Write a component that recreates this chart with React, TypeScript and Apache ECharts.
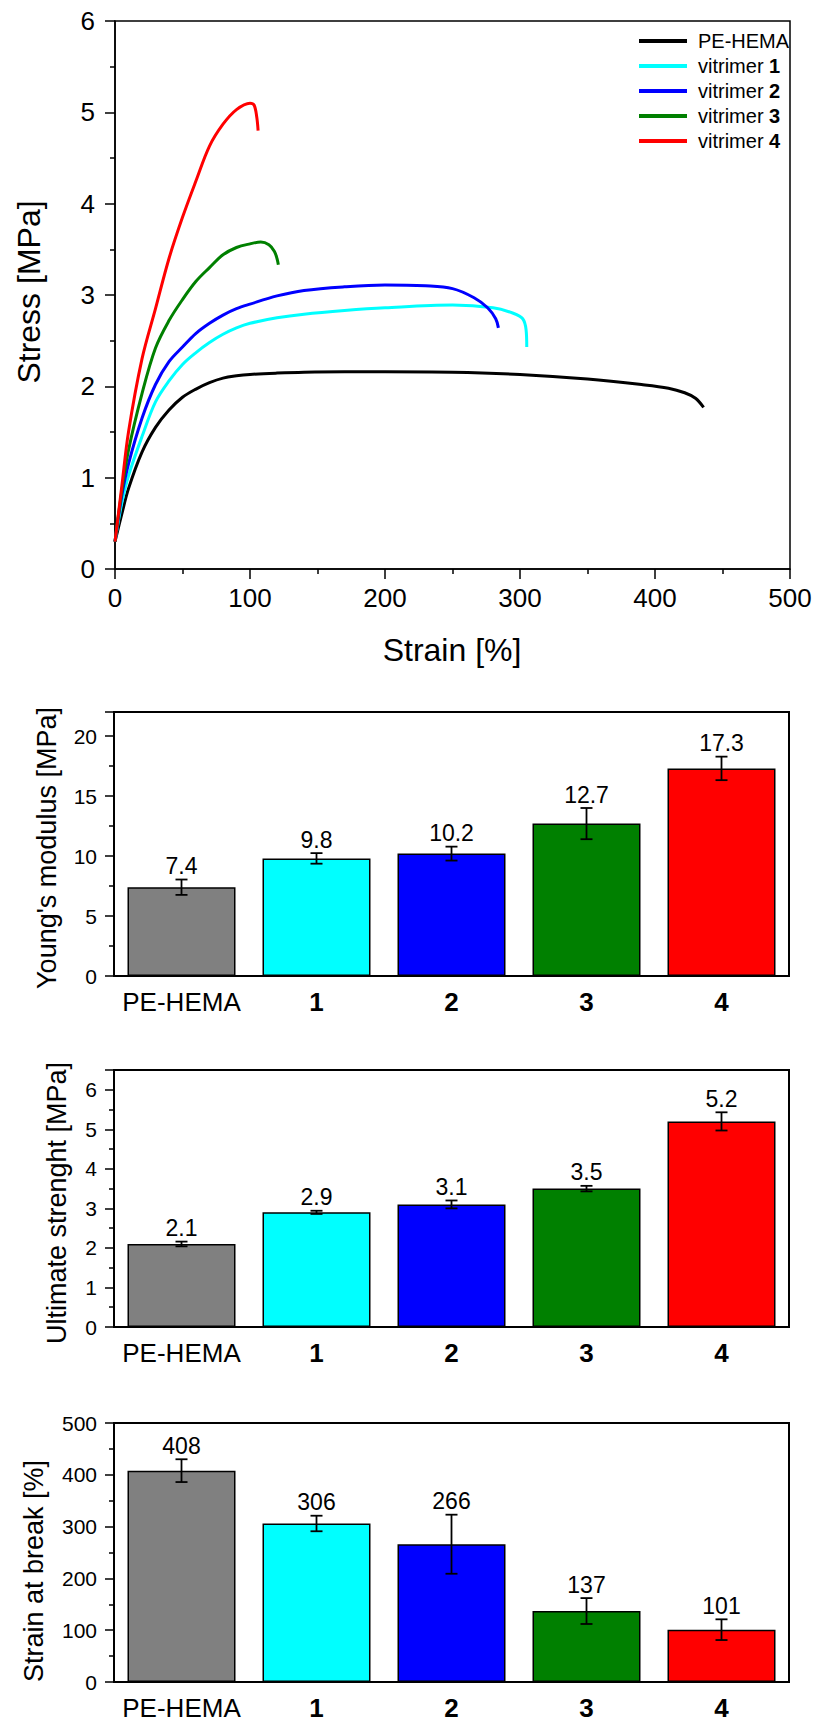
import React, { useEffect, useRef } from 'react';
import * as echarts from 'echarts';

const FONT = "'Liberation Sans', Arial, Helvetica, sans-serif";

// ---------- Stress-strain curves ----------
const seriesNames = ['PE-HEMA', 'vitrimer 1', 'vitrimer 2', 'vitrimer 3', 'vitrimer 4'];
const curveColors = ['#000000', '#00FFFF', '#0000FF', '#008000', '#FF0000'];

const peHemaCurve: [number, number][] = [
  [0, 0.3], [5, 0.6], [10, 0.88], [20, 1.28], [30, 1.55], [40, 1.74], [50, 1.88], [60, 1.97],
  [70, 2.04], [80, 2.09], [90, 2.115], [100, 2.13], [120, 2.145], [140, 2.155], [170, 2.16],
  [200, 2.16], [250, 2.155], [300, 2.13], [350, 2.08], [390, 2.02], [410, 1.98], [422, 1.93],
  [430, 1.87], [436, 1.77],
];
const vitrimer1Curve: [number, number][] = [
  [0, 0.3], [5, 0.72], [10, 1.02], [20, 1.45], [30, 1.83], [40, 2.06], [50, 2.24], [60, 2.37],
  [70, 2.48], [80, 2.57], [90, 2.64], [100, 2.69], [120, 2.75], [140, 2.79], [170, 2.83],
  [200, 2.86], [250, 2.89], [280, 2.86], [295, 2.8], [302, 2.74], [304.5, 2.62], [305, 2.43],
];
const vitrimer2Curve: [number, number][] = [
  [0, 0.3], [5, 0.8], [10, 1.15], [20, 1.65], [30, 2.02], [40, 2.27], [50, 2.43], [60, 2.58],
  [70, 2.69], [80, 2.78], [90, 2.85], [100, 2.9], [120, 2.99], [140, 3.05], [170, 3.09],
  [200, 3.11], [230, 3.1], [250, 3.07], [266, 2.97], [276, 2.86], [282, 2.74], [284, 2.64],
];
const vitrimer3Curve: [number, number][] = [
  [0, 0.3], [5, 0.85], [10, 1.3], [20, 1.92], [30, 2.42], [40, 2.72], [50, 2.95], [60, 3.15],
  [70, 3.3], [80, 3.44], [90, 3.52], [100, 3.56], [108, 3.58], [114, 3.55], [118, 3.48],
  [120, 3.4], [121, 3.33],
];
const vitrimer4Curve: [number, number][] = [
  [0, 0.3], [5, 0.9], [10, 1.5], [20, 2.3], [30, 2.85], [40, 3.4], [50, 3.85], [60, 4.25],
  [70, 4.63], [80, 4.87], [90, 5.03], [100, 5.1], [103, 5.08], [105, 4.95], [106, 4.8],
];
const curves = [peHemaCurve, vitrimer1Curve, vitrimer2Curve, vitrimer3Curve, vitrimer4Curve];

// ---------- Bar charts ----------
const categories = ['PE-HEMA', '1', '2', '3', '4'];
const barColors = ['#808080', '#00FFFF', '#0000FF', '#008000', '#FF0000'];

const youngsModulus = [7.4, 9.8, 10.2, 12.7, 17.3];
const youngsModulusErr = [0.64, 0.44, 0.58, 1.3, 0.98];

const ultimateStrength = [2.1, 2.9, 3.1, 3.5, 5.2];
const ultimateStrengthErr = [0.06, 0.04, 0.1, 0.07, 0.23];

const strainAtBreak = [408, 306, 266, 137, 101];
const strainAtBreakErr = [22, 15, 57, 25, 20];

const makeBarY = (gridIndex: number, max: number, interval: number, showMax: boolean) => ({
  type: 'value',
  gridIndex,
  min: 0,
  max,
  interval,
  axisLine: { show: true, lineStyle: { color: '#000', width: 2 } },
  axisTick: { show: true, inside: false, length: 9, lineStyle: { color: '#000', width: 1.5 } },
  minorTick: { show: true, splitNumber: 2, length: 5, lineStyle: { color: '#000', width: 1.5 } },
  axisLabel: { fontSize: 21, fontFamily: FONT, color: '#000', margin: 17, showMaxLabel: showMax },
  splitLine: { show: false },
  minorSplitLine: { show: false },
});

const makeBarX = (gridIndex: number) => ({
  type: 'category',
  gridIndex,
  data: categories,
  axisLine: { show: true, lineStyle: { color: '#000', width: 2 } },
  axisTick: { show: false },
  axisLabel: {
    margin: 13,
    formatter: (v: string) => (v === 'PE-HEMA' ? `{n|${v}}` : `{b|${v}}`),
    rich: {
      n: { fontSize: 26, fontFamily: FONT, color: '#000' },
      b: { fontSize: 26, fontFamily: FONT, color: '#000', fontWeight: 'bold' },
    },
  },
  splitLine: { show: false },
});

const makeBarSeries = (idx: number, values: number[]) => ({
  type: 'bar',
  xAxisIndex: idx,
  yAxisIndex: idx,
  barWidth: '80%',
  data: values.map((v, i) => ({
    value: v,
    itemStyle: { color: barColors[i], borderColor: '#000', borderWidth: 1.5 },
  })),
  z: 2,
});

const makeErrSeries = (idx: number, values: number[], errs: number[]) => ({
  type: 'custom',
  xAxisIndex: idx,
  yAxisIndex: idx,
  z: 5,
  encode: { x: 0, y: [1, 2] },
  data: values.map((v, i) => [i, v - errs[i], v + errs[i], v]),
  renderItem: (_params: any, api: any) => {
    const i = api.value(0);
    const lo = api.coord([i, api.value(1)]);
    const hi = api.coord([i, api.value(2)]);
    const cap = 6;
    const style = { stroke: '#000', lineWidth: 1.8 };
    return {
      type: 'group',
      children: [
        { type: 'line', shape: { x1: lo[0], y1: lo[1], x2: hi[0], y2: hi[1] }, style },
        { type: 'line', shape: { x1: lo[0] - cap, y1: lo[1], x2: lo[0] + cap, y2: lo[1] }, style },
        { type: 'line', shape: { x1: hi[0] - cap, y1: hi[1], x2: hi[0] + cap, y2: hi[1] }, style },
        {
          type: 'text',
          x: hi[0],
          y: hi[1] - 2,
          style: {
            text: String(api.value(3)),
            fontSize: 23,
            fontFamily: FONT,
            fill: '#000',
            align: 'center',
            verticalAlign: 'bottom',
          },
        },
      ],
    };
  },
});

const gridStyle = { show: true, borderColor: '#000', backgroundColor: 'transparent' };

export default function App() {
  const ref = useRef<HTMLDivElement>(null);

  useEffect(() => {
    if (!ref.current) return;
    const chart = echarts.init(ref.current, null, { renderer: 'svg' });

    const option: any = {
      animation: false,
      backgroundColor: '#ffffff',
      textStyle: { fontFamily: FONT },
      grid: [
        { ...gridStyle, borderWidth: 1.5, left: 115, top: 21, width: 675, height: 548 },
        { ...gridStyle, borderWidth: 2, left: 114, top: 712, width: 675, height: 264 },
        { ...gridStyle, borderWidth: 2, left: 114, top: 1070, width: 675, height: 257 },
        { ...gridStyle, borderWidth: 2, left: 114, top: 1423, width: 675, height: 259 },
      ],
      xAxis: [
        {
          type: 'value',
          gridIndex: 0,
          min: 0,
          max: 500,
          interval: 100,
          axisLine: { show: true, lineStyle: { color: '#000', width: 1.5 } },
          axisTick: { show: true, inside: false, length: 10, lineStyle: { color: '#000', width: 1.5 } },
          minorTick: { show: true, splitNumber: 2, length: 5, lineStyle: { color: '#000', width: 1.5 } },
          axisLabel: { fontSize: 26, fontFamily: FONT, color: '#000', margin: 16 },
          splitLine: { show: false },
        },
        makeBarX(1),
        makeBarX(2),
        makeBarX(3),
      ],
      yAxis: [
        {
          type: 'value',
          gridIndex: 0,
          min: 0,
          max: 6,
          interval: 1,
          axisLine: { show: true, lineStyle: { color: '#000', width: 1.5 } },
          axisTick: { show: true, inside: false, length: 10, lineStyle: { color: '#000', width: 1.5 } },
          minorTick: { show: true, splitNumber: 2, length: 5, lineStyle: { color: '#000', width: 1.5 } },
          axisLabel: { fontSize: 26, fontFamily: FONT, color: '#000', margin: 20 },
          splitLine: { show: false },
        },
        makeBarY(1, 22, 5, false),
        makeBarY(2, 6.5, 1, false),
        makeBarY(3, 500, 100, true),
      ],
      legend: {
        orient: 'vertical',
        left: 634,
        top: 26,
        itemWidth: 48,
        itemHeight: 4,
        itemGap: 5,
        icon: 'rect',
        data: seriesNames,
        formatter: (name: string) => {
          const m = name.match(/^vitrimer (\d)$/);
          return m ? `{n|vitrimer }{b|${m[1]}}` : `{n|${name}}`;
        },
        textStyle: {
          color: '#000',
          fontSize: 20,
          fontFamily: FONT,
          lineHeight: 20,
          rich: {
            n: { fontSize: 20, fontFamily: FONT, color: '#000', lineHeight: 20, padding: [0, 0, 0, 6] },
            b: { fontSize: 20, fontFamily: FONT, color: '#000', lineHeight: 20, fontWeight: 'bold' },
          },
        },
      },
      graphic: [
        {
          type: 'text', x: 29, y: 292, rotation: Math.PI / 2,
          style: { text: 'Stress [MPa]', fontSize: 32, fontFamily: FONT, fill: '#000', align: 'center', verticalAlign: 'middle' },
        },
        {
          type: 'text', x: 452, y: 650,
          style: { text: 'Strain [%]', fontSize: 32, fontFamily: FONT, fill: '#000', align: 'center', verticalAlign: 'middle' },
        },
        {
          type: 'text', x: 47, y: 848, rotation: Math.PI / 2,
          style: { text: "Young's modulus [MPa]", fontSize: 27, fontFamily: FONT, fill: '#000', align: 'center', verticalAlign: 'middle' },
        },
        {
          type: 'text', x: 57, y: 1203, rotation: Math.PI / 2,
          style: { text: 'Ultimate strenght [MPa]', fontSize: 27, fontFamily: FONT, fill: '#000', align: 'center', verticalAlign: 'middle' },
        },
        {
          type: 'text', x: 34, y: 1571, rotation: Math.PI / 2,
          style: { text: 'Strain at break [%]', fontSize: 27, fontFamily: FONT, fill: '#000', align: 'center', verticalAlign: 'middle' },
        },
      ],
      series: [
        ...curves.map((d, i) => ({
          type: 'line',
          name: seriesNames[i],
          xAxisIndex: 0,
          yAxisIndex: 0,
          data: d,
          showSymbol: false,
          symbol: 'none',
          smooth: 0.35,
          color: curveColors[i],
          lineStyle: { width: 3, color: curveColors[i] },
          z: 2 + i,
        })),
        makeBarSeries(1, youngsModulus),
        makeErrSeries(1, youngsModulus, youngsModulusErr),
        makeBarSeries(2, ultimateStrength),
        makeErrSeries(2, ultimateStrength, ultimateStrengthErr),
        makeBarSeries(3, strainAtBreak),
        makeErrSeries(3, strainAtBreak, strainAtBreakErr),
      ],
    };

    chart.setOption(option);
    return () => chart.dispose();
  }, []);

  return (
    <div
      ref={ref}
      style={{ position: 'absolute', left: 0, top: 0, width: 816, height: 1727, background: '#fff' }}
    />
  );
}
